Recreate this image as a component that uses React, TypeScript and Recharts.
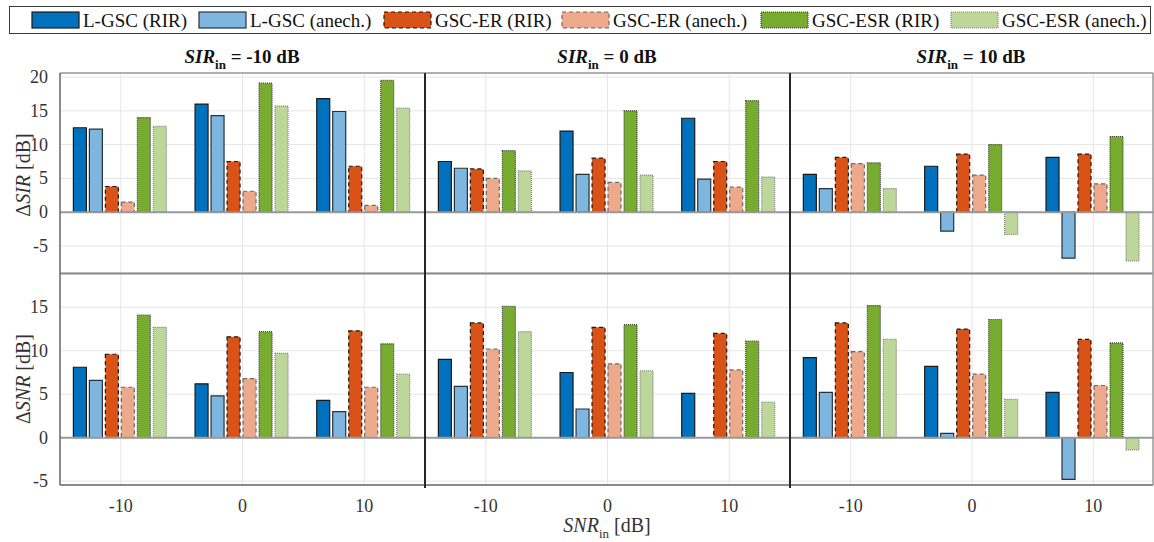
import { BarChart, Bar, XAxis, YAxis, CartesianGrid, ReferenceLine } from "recharts";

// SNR_in categories (x axis)
const snrLevels = ["-10", "0", "10"];

const seriesNames = [
  "L-GSC (RIR)",
  "L-GSC (anech.)",
  "GSC-ER (RIR)",
  "GSC-ER (anech.)",
  "GSC-ESR (RIR)",
  "GSC-ESR (anech.)",
];

// one row per SNR_in level, one column per series
const dSirAtSirM10 = [
  [12.5, 12.3, 3.8, 1.5, 14.0, 12.7],
  [16.0, 14.3, 7.5, 3.1, 19.1, 15.7],
  [16.8, 14.9, 6.8, 1.0, 19.5, 15.4],
];
const dSirAtSir0 = [
  [7.5, 6.5, 6.4, 5.0, 9.1, 6.1],
  [12.0, 5.6, 8.0, 4.4, 15.0, 5.5],
  [13.9, 4.9, 7.5, 3.7, 16.5, 5.2],
];
const dSirAtSir10 = [
  [5.6, 3.5, 8.1, 7.2, 7.3, 3.5],
  [6.8, -2.8, 8.6, 5.5, 10.0, -3.3],
  [8.1, -6.8, 8.6, 4.2, 11.2, -7.2],
];
const dSnrAtSirM10 = [
  [8.1, 6.6, 9.6, 5.8, 14.1, 12.7],
  [6.2, 4.8, 11.6, 6.8, 12.2, 9.7],
  [4.3, 3.0, 12.3, 5.8, 10.8, 7.3],
];
const dSnrAtSir0 = [
  [9.0, 5.9, 13.2, 10.2, 15.1, 12.2],
  [7.5, 3.3, 12.7, 8.5, 13.0, 7.7],
  [5.1, null, 12.0, 7.8, 11.1, 4.1],
];
const dSnrAtSir10 = [
  [9.2, 5.2, 13.2, 9.9, 15.2, 11.3],
  [8.2, 0.5, 12.5, 7.3, 13.6, 4.4],
  [5.2, -4.8, 11.3, 6.0, 10.9, -1.4],
];

const sirTitles = ["-10", "0", "10"];
const sirTicks = [-5, 0, 5, 10, 15, 20];
const snrTicks = [-5, 0, 5, 10, 15];

const styles = [
  { fill: "#0072BD", stroke: "#1a1a1a", dash: undefined },
  { fill: "#7EB6DF", stroke: "#26323c", dash: undefined },
  { fill: "#D95319", stroke: "#1a1a1a", dash: "4 3" },
  { fill: "#EDA98B", stroke: "#6a6a6a", dash: "4 3" },
  { fill: "#77AC30", stroke: "#3a3a3a", dash: "1 1" },
  { fill: "#BCD799", stroke: "#808080", dash: "1 1" },
];

const FONT = '"Liberation Serif", "Times New Roman", serif';
const PAD = 12; // room above each chart for the top tick label

const toRows = (rows: (number | null)[][]) =>
  snrLevels.map((snr, i) => {
    const row: Record<string, any> = { snr };
    rows[i].forEach((v, j) => (row["s" + j] = v));
    return row;
  });

const YTick = ({ x, y, payload }: any) => (
  <text x={x} y={y} dy={6} textAnchor="end" fill="#333" fontSize={18} style={{ fontFamily: FONT }}>
    {payload.value}
  </text>
);

const XTick = ({ x, y, payload }: any) => (
  <text x={x} y={y} dy={16} textAnchor="middle" fill="#333" fontSize={18} style={{ fontFamily: FONT }}>
    {payload.value}
  </text>
);

function Panel({ rows, domain, ticks, showY, showX, width, height }: any) {
  return (
    <BarChart
      width={width}
      height={height}
      data={toRows(rows)}
      margin={{ top: PAD, right: 0, bottom: 0, left: 0 }}
      barCategoryGap="11%"
      barGap={3}
    >
      <CartesianGrid stroke="#e6e6e6" strokeWidth={1} />
      <XAxis
        dataKey="snr"
        hide={!showX}
        height={showX ? 40 : 0}
        axisLine={false}
        tickLine={false}
        tickSize={6}
        tickMargin={5}
        tick={<XTick />}
      />
      <YAxis
        type="number"
        domain={domain}
        ticks={ticks}
        interval={0}
        allowDataOverflow
        hide={!showY}
        width={showY ? 60 : 0}
        axisLine={false}
        tickLine={false}
        tickMargin={6}
        tick={<YTick />}
      />
      {styles.map((s, j) => (
        <Bar
          key={j}
          dataKey={"s" + j}
          name={seriesNames[j]}
          fill={s.fill}
          stroke={s.stroke}
          strokeWidth={1.2}
          strokeDasharray={s.dash}
          isAnimationActive={false}
        />
      ))}
      <ReferenceLine y={0} stroke="#9a9a9a" strokeWidth={2} />
    </BarChart>
  );
}

const legendX = [32, 199, 384, 562, 761, 951];

export default function App() {
  const topRows = [dSirAtSirM10, dSirAtSir0, dSirAtSir10];
  const bottomRows = [dSnrAtSirM10, dSnrAtSir0, dSnrAtSir10];
  const colLeft = [0, 425, 790];
  const colWidth = [425, 365, 364];
  return (
    <div style={{ position: "absolute", left: 0, top: 0, width: 1154, height: 542, background: "#fff", fontFamily: FONT }}>
      {topRows.map((rows, c) => (
        <div key={"t" + c} style={{ position: "absolute", left: colLeft[c], top: 73 - PAD }}>
          <Panel rows={rows} domain={[-9, 20.6]} ticks={sirTicks} showY={c === 0} showX={false} width={colWidth[c]} height={200 + PAD} />
        </div>
      ))}
      {bottomRows.map((rows, c) => (
        <div key={"b" + c} style={{ position: "absolute", left: colLeft[c], top: 273 - PAD }}>
          <Panel rows={rows} domain={[-5.45, 18.95]} ticks={snrTicks} showY={c === 0} showX={true} width={colWidth[c]} height={252 + PAD} />
        </div>
      ))}
      <svg width={1154} height={542} style={{ position: "absolute", left: 0, top: 0, pointerEvents: "none", fontFamily: FONT }}>
        {/* axes boxes */}
        <line x1={60} x2={1153} y1={73} y2={73} stroke="#9a9a9a" strokeWidth={1.5} />
        <line x1={60} x2={1153} y1={273.5} y2={273.5} stroke="#8a8a8a" strokeWidth={2} />
        <line x1={60} x2={1153} y1={485} y2={485} stroke="#8a8a8a" strokeWidth={2} />
        <line x1={60} x2={60} y1={73} y2={485} stroke="#6a6a6a" strokeWidth={1.5} />
        <line x1={425} x2={425} y1={73} y2={488} stroke="#262626" strokeWidth={2} />
        <line x1={790} x2={790} y1={73} y2={488} stroke="#262626" strokeWidth={2} />
        <line x1={1153} x2={1153} y1={73} y2={485} stroke="#9a9a9a" strokeWidth={1.5} />

        {/* legend */}
        <rect x={9.5} y={6.5} width={1141} height={27} fill="#fff" stroke="#3a3a3a" strokeWidth={1} />
        {styles.map((s, j) => (
          <g key={j}>
            <rect x={legendX[j]} y={12} width={47} height={16} fill={s.fill} stroke={s.stroke} strokeWidth={1.2} strokeDasharray={s.dash} />
            <text x={legendX[j] + 51} y={26.5} fontSize={19} fill="#111" style={{ fontFamily: FONT }}>
              {seriesNames[j]}
            </text>
          </g>
        ))}

        {/* column titles */}
        {sirTitles.map((t, c) => (
          <text key={c} x={[242, 607, 971][c]} y={63} textAnchor="middle" fontSize={19} fontWeight="bold" fill="#111" style={{ fontFamily: FONT }}>
            <tspan fontStyle="italic">SIR</tspan>
            <tspan fontSize={13} dy={6}>in</tspan>
            <tspan dy={-6}>{" = " + t + " dB"}</tspan>
          </text>
        ))}

        {/* y labels */}
        <text x={30} y={175} transform="rotate(-90 30 175)" textAnchor="middle" fontSize={20} fill="#333" style={{ fontFamily: FONT }}>
          Δ<tspan fontStyle="italic">SIR</tspan> [dB]
        </text>
        <text x={30} y={379} transform="rotate(-90 30 379)" textAnchor="middle" fontSize={20} fill="#333" style={{ fontFamily: FONT }}>
          Δ<tspan fontStyle="italic">SNR</tspan> [dB]
        </text>

        {/* x label */}
        <text x={607} y={532} textAnchor="middle" fontSize={20} fill="#333" style={{ fontFamily: FONT }}>
          <tspan fontStyle="italic">SNR</tspan>
          <tspan fontSize={13} dy={6}>in</tspan>
          <tspan dy={-6}> [dB]</tspan>
        </text>
      </svg>
    </div>
  );
}
